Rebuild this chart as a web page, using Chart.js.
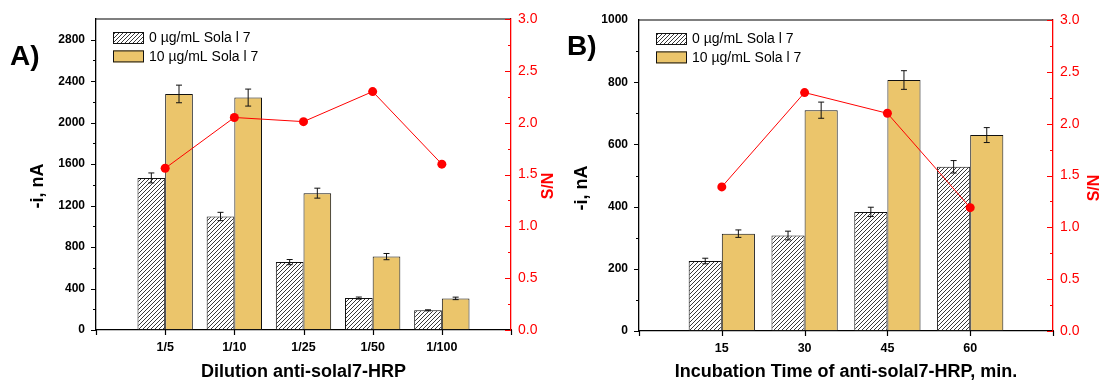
<!DOCTYPE html>
<html>
<head>
<meta charset="utf-8">
<script src="https://cdn.jsdelivr.net/npm/chart.js@4.4.1/dist/chart.umd.min.js"></script>
<style>
  body { margin: 0; background: #fff; }
  #wrap { position: relative; width: 1103px; height: 383px; overflow: hidden; }
  .panel { position: absolute; top: 0; height: 383px; }
  #panelA { left: 0; width: 557px; }
  #panelB { left: 552px; width: 551px; }
  .tag { position: absolute; font: bold 28px "Liberation Sans", Arial, sans-serif; line-height: 28px; color: #000; }
</style>
</head>
<body>
<div id="wrap">
  <div class="panel" id="panelA"><canvas id="chartA"></canvas></div>
  <div class="panel" id="panelB"><canvas id="chartB"></canvas></div>
  <div class="tag" style="left:10px;top:42px">A)</div>
  <div class="tag" style="left:567px;top:32px">B)</div>
</div>
<script>
const FONT = '"Liberation Sans", Arial, sans-serif';
const GOLD = '#EBC56B';

// A) dilution of anti-solal7-HRP
const dilutionLabels = ['1/5', '1/10', '1/25', '1/50', '1/100'];
const dilBlank = [1467, 1095, 655, 308, 190];
const dilBlankErr = [48, 40, 25, 10, 5];
const dilSola = [2277, 2242, 1320, 708, 305];
const dilSolaErr = [85, 82, 48, 30, 12];
const dilSN = [1.56, 2.05, 2.01, 2.30, 1.60];

// B) incubation time, min
const timeLabels = ['15', '30', '45', '60'];
const timeBlank = [225, 307, 383, 528];
const timeBlankErr = [9, 14, 15, 20];
const timeSola = [313, 710, 807, 630];
const timeSolaErr = [12, 26, 30, 24];
const timeSN = [1.39, 2.30, 2.10, 1.19];

const seriesNames = ['0 µg/mL Sola l 7', '10 µg/mL Sola l 7'];

// empty slot at each end so the axis runs from 0 to n+1
const pad = arr => [null, ...arr, null];

function hatch() {
  const s = 4;
  const c = document.createElement('canvas');
  c.width = s; c.height = s;
  const g = c.getContext('2d');
  g.fillStyle = '#fff';
  g.fillRect(0, 0, s, s);
  g.strokeStyle = '#222';
  g.lineWidth = 0.9;
  g.beginPath();
  g.moveTo(0, s); g.lineTo(s, 0);
  g.moveTo(-1, 1); g.lineTo(1, -1);
  g.moveTo(s - 1, s + 1); g.lineTo(s + 1, s - 1);
  g.stroke();
  return g.createPattern(c, 'repeat');
}
const hatchFill = hatch();

function makeChart(id, o) {
  const labels = ['', ...o.labels, ''];

  const extras = {
    id: 'extras',
    afterDatasetDraw(chart, args) {
      const ds = chart.data.datasets[args.index];
      if (!ds.errors) return;
      const ctx = chart.ctx, y = chart.scales.y;
      ctx.save();
      ctx.strokeStyle = '#111';
      ctx.lineWidth = 1;
      args.meta.data.forEach((bar, i) => {
        const v = ds.data[i];
        if (v == null) return;
        const e = ds.errors[i - 1];
        const top = y.getPixelForValue(v + e), bot = y.getPixelForValue(v - e);
        ctx.beginPath();
        ctx.moveTo(bar.x, top); ctx.lineTo(bar.x, bot);
        ctx.moveTo(bar.x - 3, top); ctx.lineTo(bar.x + 3, top);
        ctx.moveTo(bar.x - 3, bot); ctx.lineTo(bar.x + 3, bot);
        ctx.stroke();
      });
      ctx.restore();
    },
    afterDraw(chart) {
      const ctx = chart.ctx, a = chart.chartArea;
      const {x, y, y1} = chart.scales;
      ctx.save();
      ctx.lineWidth = 1.2;

      // frame top
      ctx.strokeStyle = '#000';
      ctx.beginPath();
      ctx.moveTo(a.left, a.top); ctx.lineTo(a.right, a.top);
      ctx.stroke();

      // left ticks, outward
      ctx.beginPath();
      y.ticks.forEach(t => {
        if (t.value >= o.yMax) return;
        const py = Math.round(y.getPixelForValue(t.value)) + 0.5;
        const len = t.value % o.yMajor === 0 ? 5 : 3;
        ctx.moveTo(a.left - len, py); ctx.lineTo(a.left, py);
      });
      // category ticks, downward
      labels.forEach((l, i) => {
        const px = Math.round(x.getPixelForValue(i)) + 0.5;
        ctx.moveTo(px, a.bottom); ctx.lineTo(px, a.bottom + 5);
      });
      ctx.stroke();

      // right ticks, inward
      ctx.strokeStyle = '#FF0000';
      ctx.beginPath();
      y1.ticks.forEach(t => {
        const py = Math.round(y1.getPixelForValue(t.value)) + 0.5;
        const major = Math.abs(t.value * 2 - Math.round(t.value * 2)) < 1e-6;
        const len = major ? 6 : 3;
        ctx.moveTo(a.right - len, py); ctx.lineTo(a.right, py);
      });
      ctx.stroke();

      // y titles
      ctx.font = 'bold 18px ' + FONT;
      ctx.fillStyle = '#000';
      ctx.textAlign = 'center';
      ctx.textBaseline = 'middle';
      ctx.save();
      ctx.translate(o.leftTitleX, o.titleY);
      ctx.rotate(-Math.PI / 2);
      ctx.fillText('-i, nA', 0, 0);
      ctx.restore();
      ctx.font = 'bold 16px ' + FONT;
      ctx.fillStyle = '#FF0000';
      ctx.save();
      ctx.translate(o.rightTitleX, o.titleY);
      ctx.rotate(-Math.PI / 2);
      ctx.fillText('S/N', 0, 0);
      ctx.restore();

      // legend
      const lx = a.left + 17, ly = a.top + 13;
      ctx.font = '14px ' + FONT;
      ctx.textAlign = 'left';
      ctx.fillStyle = '#000';
      ctx.lineWidth = 1;
      ctx.strokeStyle = '#111';
      [hatchFill, GOLD].forEach((fill, i) => {
        const by = ly + i * 18.4;
        ctx.fillStyle = fill;
        ctx.fillRect(lx, by, 31, 12);
        ctx.strokeRect(lx + 0.5, by + 0.5, 30, 11);
        ctx.fillStyle = '#000';
        ctx.fillText(seriesNames[i], lx + 36, by + 6.5);
      });
      ctx.restore();
    }
  };

  return new Chart(document.getElementById(id), {
    data: {
      labels: labels,
      datasets: [
        {
          type: 'line', label: 'S/N', data: pad(o.sn), yAxisID: 'y1', order: 0,
          borderColor: '#FF0000', backgroundColor: '#FF0000', borderWidth: 1,
          pointRadius: 4.5, pointBackgroundColor: '#FF0000', pointBorderWidth: 0
        },
        {
          type: 'bar', label: seriesNames[0], data: pad(o.blank), errors: o.blankErr, yAxisID: 'y', order: 1,
          backgroundColor: hatchFill, borderColor: '#111', borderWidth: 1, borderSkipped: false,
          categoryPercentage: 0.8, barPercentage: 1.0
        },
        {
          type: 'bar', label: seriesNames[1], data: pad(o.sola), errors: o.solaErr, yAxisID: 'y', order: 1,
          backgroundColor: GOLD, borderColor: '#111', borderWidth: 1, borderSkipped: false,
          categoryPercentage: 0.8, barPercentage: 1.0
        }
      ]
    },
    options: {
      responsive: true,
      maintainAspectRatio: false,
      animation: false,
      events: [],
      layout: { padding: { top: o.top, left: 0, right: 0, bottom: 0 } },
      plugins: { legend: { display: false }, tooltip: { enabled: false } },
      scales: {
        x: {
          type: 'category',
          offset: false,
          grid: { display: false, drawTicks: false, offset: false },
          border: { display: true, color: '#000', width: 1.3 },
          ticks: { autoSkip: false, maxRotation: 0, padding: 10, color: '#000', font: { family: FONT, size: 12.5, weight: 'bold' } },
          title: { display: true, text: o.xTitle, color: '#000', padding: { top: 0, bottom: 0 }, font: { family: FONT, size: 18, weight: 'bold' } },
          afterFit: s => { s.height = o.bottomH; }
        },
        y: {
          position: 'left',
          min: 0, max: o.yMax,
          grid: { display: false, drawTicks: false },
          border: { display: true, color: '#000', width: 1.3 },
          ticks: {
            stepSize: o.yMajor / 2, padding: 11, color: '#000',
            font: { family: FONT, size: 12, weight: 'bold' },
            callback: v => (v % o.yMajor === 0 ? v : '')
          },
          afterFit: s => { s.width = o.leftW; }
        },
        y1: {
          position: 'right',
          min: 0, max: 3,
          grid: { display: false, drawTicks: false },
          border: { display: true, color: '#FF0000', width: 1.3 },
          ticks: {
            stepSize: 0.25, padding: 7, color: '#FF0000',
            font: { family: FONT, size: 14 },
            callback: v => (Math.abs(v * 2 - Math.round(v * 2)) < 1e-6 ? v.toFixed(1) : '')
          },
          afterFit: s => { s.width = o.rightW; }
        }
      }
    },
    plugins: [extras]
  });
}

makeChart('chartA', {
  labels: dilutionLabels, blank: dilBlank, blankErr: dilBlankErr,
  sola: dilSola, solaErr: dilSolaErr, sn: dilSN,
  yMax: 3000, yMajor: 400,
  xTitle: 'Dilution anti-solal7-HRP',
  leftW: 96, rightW: 46, bottomH: 53, top: 19,
  leftTitleX: 38, rightTitleX: 549, titleY: 186
});

makeChart('chartB', {
  labels: timeLabels, blank: timeBlank, blankErr: timeBlankErr,
  sola: timeSola, solaErr: timeSolaErr, sn: timeSN,
  yMax: 1000, yMajor: 200,
  xTitle: 'Incubation Time of anti-solal7-HRP, min.',
  leftW: 87, rightW: 50, bottomH: 52, top: 20,
  leftTitleX: 30, rightTitleX: 543, titleY: 188
});
</script>
</body>
</html>
